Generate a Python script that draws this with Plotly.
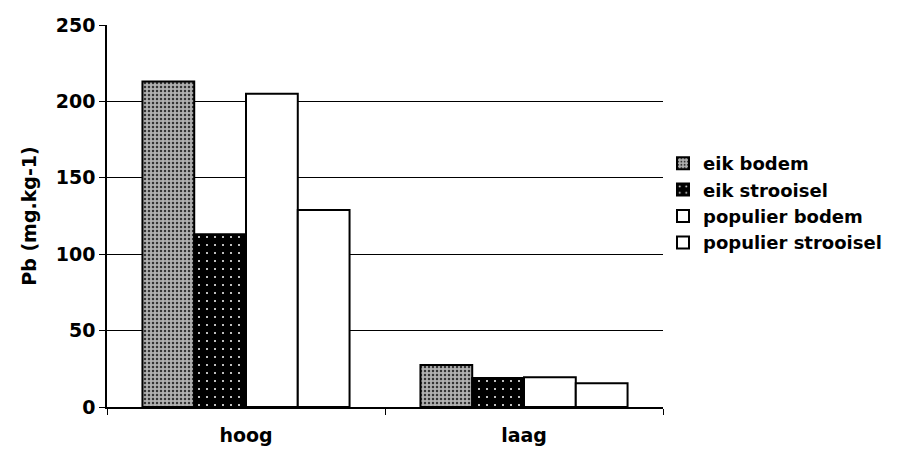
import plotly.graph_objects as go

categories = ["hoog", "laag"]
series_names = ["eik bodem", "eik strooisel", "populier bodem", "populier strooisel"]
eik_bodem = [213, 27.5]
eik_strooisel = [113, 19]
populier_bodem = [205, 19.5]
populier_strooisel = [129, 15.5]
y_ticks = [0, 50, 100, 150, 200, 250]

values = [eik_bodem, eik_strooisel, populier_bodem, populier_strooisel]
fills = ["#a8a8a8", "#000000", "#ffffff", "#ffffff"]
patterns = [
    dict(shape=".", fgcolor="#333333", bgcolor="#b0b0b0", size=4, solidity=0.3, fillmode="replace"),
    dict(shape=".", fgcolor="#ffffff", bgcolor="#000000", size=8, solidity=0.05, fillmode="replace"),
    dict(shape=""),
    dict(shape=""),
]

fig = go.Figure()
for name, v, c, p in zip(series_names, values, fills, patterns):
    fig.add_trace(go.Bar(
        x=categories, y=v, name=name,
        marker=dict(color=c, line=dict(color="black", width=2), pattern=p),
    ))

FAM = "DejaVu Sans, Liberation Sans, sans-serif"
bold = dict(family=FAM, size=19, color="black", weight="bold")
fig.update_layout(
    barmode="group", bargap=0.255, bargroupgap=0,
    width=899, height=454,
    margin=dict(l=107, r=236, t=25, b=47),
    plot_bgcolor="white", paper_bgcolor="white",
    font=bold,
    showlegend=True,
    legend=dict(x=1.0, y=0.534, yanchor="middle", xanchor="left",
                font=dict(family=FAM, size=18, color="black", weight="bold"),
                tracegroupgap=0, itemwidth=30, bgcolor="rgba(0,0,0,0)",
                borderwidth=0),
    xaxis=dict(showline=True, linecolor="black", linewidth=1.5, ticks="outside",
               tickson="boundaries", ticklen=6, tickcolor="black",
               ticklabelstandoff=10, automargin=False,
               tickfont=bold, showgrid=False),
    yaxis=dict(range=[0, 250], tickvals=y_ticks, showline=True, linecolor="black", linewidth=1.5,
               ticks="outside", ticklen=6, tickcolor="black", showgrid=True, gridcolor="black",
               gridwidth=1, zeroline=False, tickfont=bold,
               title=dict(text="Pb (mg.kg-1)", standoff=14, font=bold)),
)
fig.write_html("out.html")
